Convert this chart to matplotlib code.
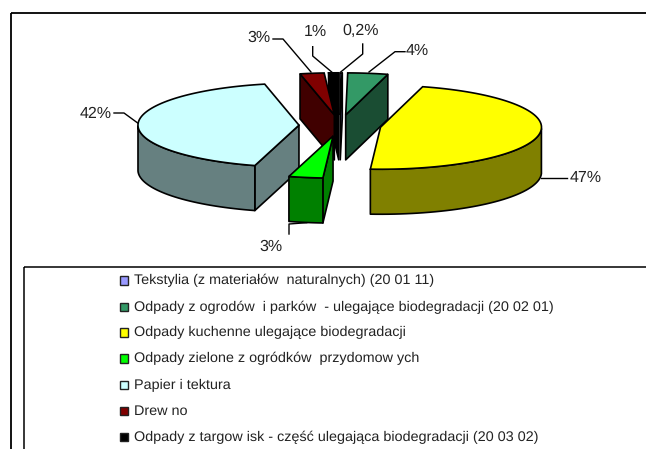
import numpy as np
import matplotlib
matplotlib.use("Agg")
import matplotlib.pyplot as plt
from matplotlib.patches import Polygon, Rectangle

plt.rcParams['font.family'] = ['Liberation Sans', 'DejaVu Sans']
plt.rcParams['text.hinting'] = 'none'

# slices, clockwise from 12 o'clock
categories = [
    'Tekstylia (z materiałów  naturalnych) (20 01 11)',
    'Odpady z ogrodów  i parków  - ulegające biodegradacji (20 02 01)',
    'Odpady kuchenne ulegające biodegradacji',
    'Odpady zielone z ogródków  przydomow ych',
    'Papier i tektura',
    'Drew no',
    'Odpady z targow isk - część ulegająca biodegradacji (20 03 02)',
]
values = [0.2, 4, 46.6, 3.4, 42, 2.4, 1]
colors = ['#9999FF', '#339966', '#FFFF00', '#00FF00', '#CCFFFF', '#800000', '#000000']

# the labels, with where the text sits and its leader line
pct_labels = ['0,2%', '4%', '47%', '3%', '42%', '3%', '1%']
label_pos = [(361, 31), (417, 51), (586, 178), (271, 247), (96, 114), (259, 38), (315, 32)]
leaders = [
    [(362.7, 44), (362.7, 54), (340.7, 72)],
    [(405, 51.7), (395, 51.7), (369, 72)],
    [(540.7, 178), (567, 178)],
    [(289, 234), (289, 224), (306.7, 222.7)],
    [(114, 113), (124, 113), (137.7, 123)],
    [(273, 39), (283, 39), (311, 72)],
    [(312.7, 46.7), (312.7, 56), (331.7, 72)],
]
legend_ys = [280.5, 307, 332.5, 358.5, 385, 411, 437]

cx, cy = 340, 125.5
rx, ry = 161, 42
depth = 45
explode = 0.255


def darker(c):
    return tuple(v * 0.5 for v in matplotlib.colors.to_rgb(c))


def wall(p1, p2):
    return [p1, p2, (p2[0], p2[1] + depth), (p1[0], p1[1] + depth)]


fig = plt.figure(figsize=(6.46, 4.49), dpi=100)
ax = fig.add_axes([0, 0, 1, 1])
ax.set_xlim(0, 646)
ax.set_ylim(449, 0)
ax.axis('off')

# frames, right and bottom sides run off the picture
ax.add_patch(Rectangle((11, 12.5), 650, 450, fill=False, ec='black', lw=1.3, zorder=1))
ax.add_patch(Rectangle((24, 266.5), 640, 200, fill=False, ec='black', lw=1.1, zorder=1))

edges = np.cumsum([0] + values) / sum(values) * 2 * np.pi
order = sorted(range(len(values)), key=lambda i: -np.cos((edges[i] + edges[i + 1]) / 2))

z = 2
for i in order:
    a0, a1 = edges[i], edges[i + 1]
    mid = (a0 + a1) / 2
    ox = cx + explode * rx * np.sin(mid)
    oy = cy - explode * ry * np.cos(mid)
    t = np.linspace(a0, a1, 80)
    xs = ox + rx * np.sin(t)
    ys = oy - ry * np.cos(t)
    apex = (ox, oy)
    style = dict(fc=darker(colors[i]), ec='black', lw=1.2, joinstyle='round')

    # cut faces that turn towards the viewer
    if np.sin(a0) < -1e-6:
        ax.add_patch(Polygon(wall(apex, (xs[0], ys[0])), zorder=z, **style))
    if np.sin(a1) > 1e-6:
        ax.add_patch(Polygon(wall(apex, (xs[-1], ys[-1])), zorder=z, **style))

    # outer rim, front half only
    front = np.cos(t) <= 0
    if front.any():
        fx, fy = xs[front], ys[front]
        rim = list(zip(fx, fy)) + list(zip(fx[::-1], fy[::-1] + depth))
        ax.add_patch(Polygon(rim, zorder=z, **style))

    top = [apex] + list(zip(xs, ys))
    ax.add_patch(Polygon(top, fc=colors[i], ec='black', lw=1.2, zorder=z + 0.5))
    z += 1

for txt, pos, line in zip(pct_labels, label_pos, leaders):
    ax.text(pos[0], pos[1], txt, fontsize=11.5, ha='center', va='center', color='#222222', zorder=30)
    lx, ly = zip(*line)
    ax.plot(lx, ly, color='black', lw=1.0, zorder=30)

# legend
for name, col, y in zip(categories, colors, legend_ys):
    ax.add_patch(Rectangle((119.5, y - 4.5), 8.5, 8.5, fc=col, ec='#222222', lw=1.0, zorder=30))
    ax.text(133.5, y, name, fontsize=10.4, ha='left', va='center', color='#222222', zorder=30)

fig.savefig('out.png', dpi=100)
